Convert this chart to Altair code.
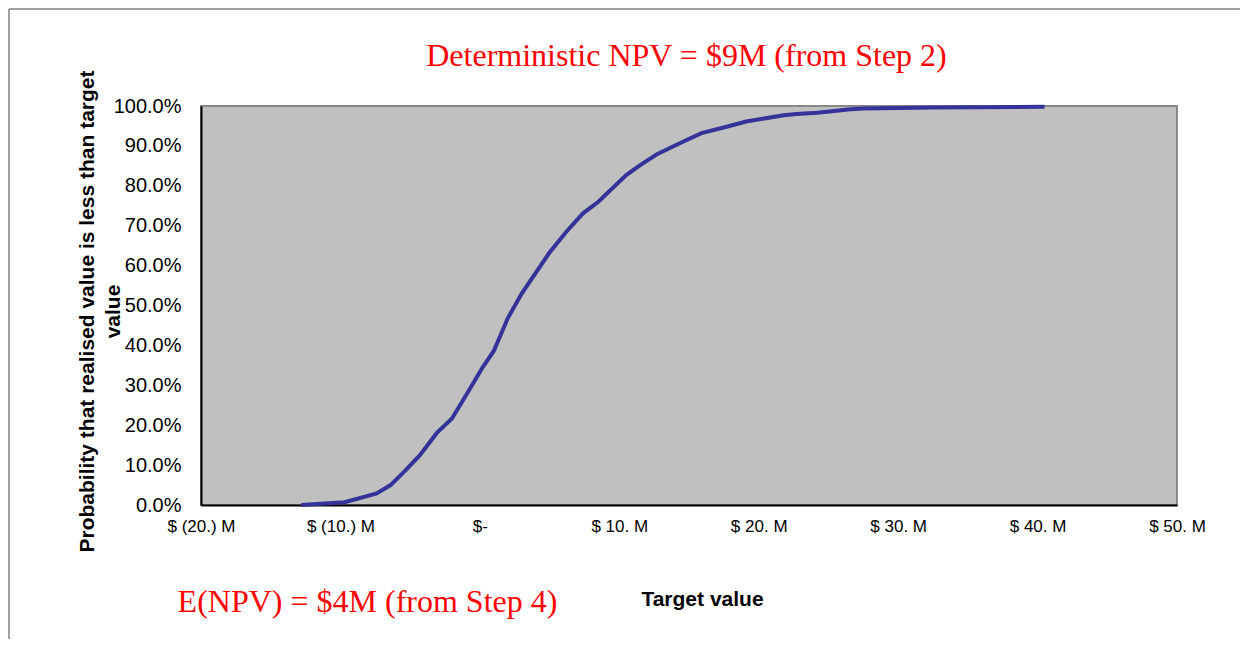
import altair as alt
import pandas as pd

# ---- data ----
target_value_m = [-12.8, -9.7, -7.4, -6.4, -5.3, -4.3, -3.1, -2.0, -0.7, 0.2, 1.0, 2.0, 3.0,
                  5.0, 6.2, 7.4, 8.5, 10.5, 11.5, 12.7, 14.6, 15.9, 17.9, 19.1, 21.8, 22.7,
                  24.2, 26.6, 27.5, 32.5, 40.5]
prob_less_pct = [0.0, 0.7, 2.9, 5.0, 8.8, 12.5, 18.0, 21.7, 29.2, 34.5, 38.6, 46.8, 53.0,
                 63.3, 68.5, 73.1, 76.0, 82.7, 85.2, 87.9, 91.1, 93.2, 95.0, 96.1, 97.7, 98.0,
                 98.3, 99.2, 99.4, 99.6, 99.8]
x_ticks = [-20, -10, 0, 10, 20, 30, 40, 50]
y_ticks = [0.0, 0.1, 0.2, 0.3, 0.4, 0.5, 0.6, 0.7, 0.8, 0.9, 1.0]
top_note = ["Deterministic NPV = $9M (from Step 2)"]
bottom_note = ["E(NPV) = $4M (from Step 4)"]
y_title = ["Probability that realised value is less than target", "value"]
x_title = "Target value"

df = pd.DataFrame({"target": target_value_m,
                   "prob": [p / 100 for p in prob_less_pct]})

label_expr = ("datum.value < 0 ? '$ (' + abs(datum.value) + '.) M' : "
              "(datum.value == 0 ? '$-' : '$ ' + datum.value + '. M')")

line = alt.Chart(df).mark_line(color="#333399", strokeWidth=4).encode(
    x=alt.X("target:Q",
            scale=alt.Scale(domain=[-20, 50], nice=False, zero=False),
            axis=alt.Axis(values=x_ticks, labelExpr=label_expr, title=x_title,
                          grid=False, ticks=False, domainColor="black", domainWidth=2,
                          labelFont="Liberation Sans", labelFontSize=17, labelColor="black",
                          labelPadding=13, labelFlush=False, labelOverlap=False,
                          titleFont="Liberation Sans", titleFontSize=21, titleFontWeight="bold",
                          titleColor="black", titleX=501, titleY=100, titleAlign="center",
                          titleBaseline="alphabetic")),
    y=alt.Y("prob:Q",
            scale=alt.Scale(domain=[0, 1], nice=False),
            axis=alt.Axis(values=y_ticks, format=".1%", title=y_title,
                          grid=False, ticks=False, domainColor="black", domainWidth=2,
                          labelFont="Liberation Sans", labelFontSize=20, labelColor="black",
                          labelPadding=20, labelFlush=False, labelOverlap=False,
                          titleFont="Liberation Sans", titleFontSize=21, titleFontWeight="bold",
                          titleColor="black", titleAngle=270, titleX=-125, titleY=205,
                          titleAlign="center", titleBaseline="top", titleLineHeight=26)),
)

top_text = alt.Chart(pd.DataFrame({"t": top_note})).mark_text(
    font="Liberation Serif", fontSize=32, color="#FF0000", align="center", baseline="alphabetic"
).encode(x=alt.value(485.5), y=alt.value(-40), text="t:N")

bottom_text = alt.Chart(pd.DataFrame({"t": bottom_note})).mark_text(
    font="Liberation Serif", fontSize=32, color="#FF0000", align="center", baseline="alphabetic"
).encode(x=alt.value(166.5), y=alt.value(506), text="t:N")

frame_df = pd.DataFrame({"k": [0]})
frame_top = alt.Chart(frame_df).mark_rule(color="#808080", strokeWidth=1.5).encode(
    x=alt.value(-192), x2=alt.value(1039), y=alt.value(-97))
frame_left = alt.Chart(frame_df).mark_rule(color="#808080", strokeWidth=1.5).encode(
    x=alt.value(-192), y=alt.value(-97), y2=alt.value(600))

chart = alt.layer(frame_top, frame_left, line, top_text, bottom_text).properties(
    width=976, height=399,
    autosize=alt.AutoSizeParams(type="none"),
    padding={"left": 193, "top": 98, "right": 63, "bottom": 134},
    background="white",
).configure_view(fill="#C0C0C0", stroke="#888888", strokeWidth=2)

chart.save("out.html", embed_options={"renderer": "svg", "actions": False})
